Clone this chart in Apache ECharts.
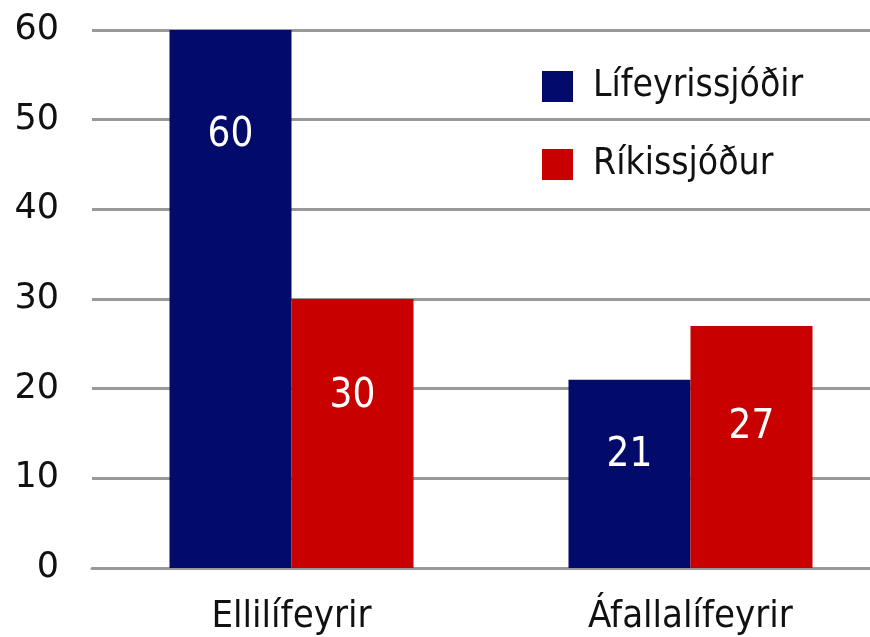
<!DOCTYPE html>
<html>
<head>
<meta charset="utf-8">
<script src="https://cdn.jsdelivr.net/npm/echarts@6/dist/echarts.min.js"></script>
<style>
  html, body { margin: 0; padding: 0; background: #fff; overflow: hidden; }
  #chart { width: 890px; height: 637px; }
</style>
</head>
<body>
<div id="chart"></div>
<script>
// flokkar og gildi
const categories = ['Ellilífeyrir', 'Áfallalífeyrir'];
const seriesNames = ['Lífeyrissjóðir', 'Ríkissjóður'];
const lifeyrissjodir = [60, 21];
const rikissjodur = [30, 27];
const yTicks = [0, 10, 20, 30, 40, 50, 60];

const colors = ['#020b69', '#c80000'];
// hvar merkimiðinn situr frá toppi súlunnar (px)
const labelDist = [[86, 56], [78, 82]];

const chart = echarts.init(document.getElementById('chart'));

function makeSeries(name, values, idx) {
  return {
    name: name,
    type: 'bar',
    barWidth: 122,
    barGap: '0%',
    itemStyle: { color: colors[idx] },
    data: values.map((v, i) => ({
      value: v,
      label: { distance: labelDist[idx][i] },
    })),
    label: {
      show: true,
      position: 'insideTop',
      color: '#fff',
      fontSize: 40,
      fontFamily: 'DejaVu Sans Condensed',
    },
  };
}

// teikniflöturinn er aðeins breiðari en glugginn, eins og í frumritinu
chart.setOption({
  animation: false,
  grid: { left: 92, right: 0, top: 30, bottom: 69 },
  legend: {
    orient: 'vertical',
    left: 542,
    top: 68,
    padding: 0,
    icon: 'rect',
    itemWidth: 31,
    itemHeight: 31,
    itemGap: 41,
    textStyle: {
      fontSize: 37, lineHeight: 31, color: '#111',
      fontFamily: 'DejaVu Sans Condensed', padding: [0, 0, 0, 15],
    },
    data: seriesNames,
  },
  xAxis: {
    type: 'category',
    data: categories,
    axisLine: { lineStyle: { color: '#999', width: 3 } },
    axisTick: { show: false },
    axisLabel: { color: '#111', fontSize: 38, margin: 30, fontFamily: 'DejaVu Sans Condensed' },
  },
  yAxis: {
    type: 'value',
    min: yTicks[0],
    max: yTicks[yTicks.length - 1],
    interval: 10,
    axisLine: { show: false },
    axisTick: { show: false },
    splitLine: { lineStyle: { color: '#999', width: 3 } },
    axisLabel: { color: '#111', fontSize: 35, margin: 33, fontFamily: 'DejaVu Sans' },
  },
  series: [
    makeSeries(seriesNames[0], lifeyrissjodir, 0),
    makeSeries(seriesNames[1], rikissjodur, 1),
  ],
});
</script>
</body>
</html>
